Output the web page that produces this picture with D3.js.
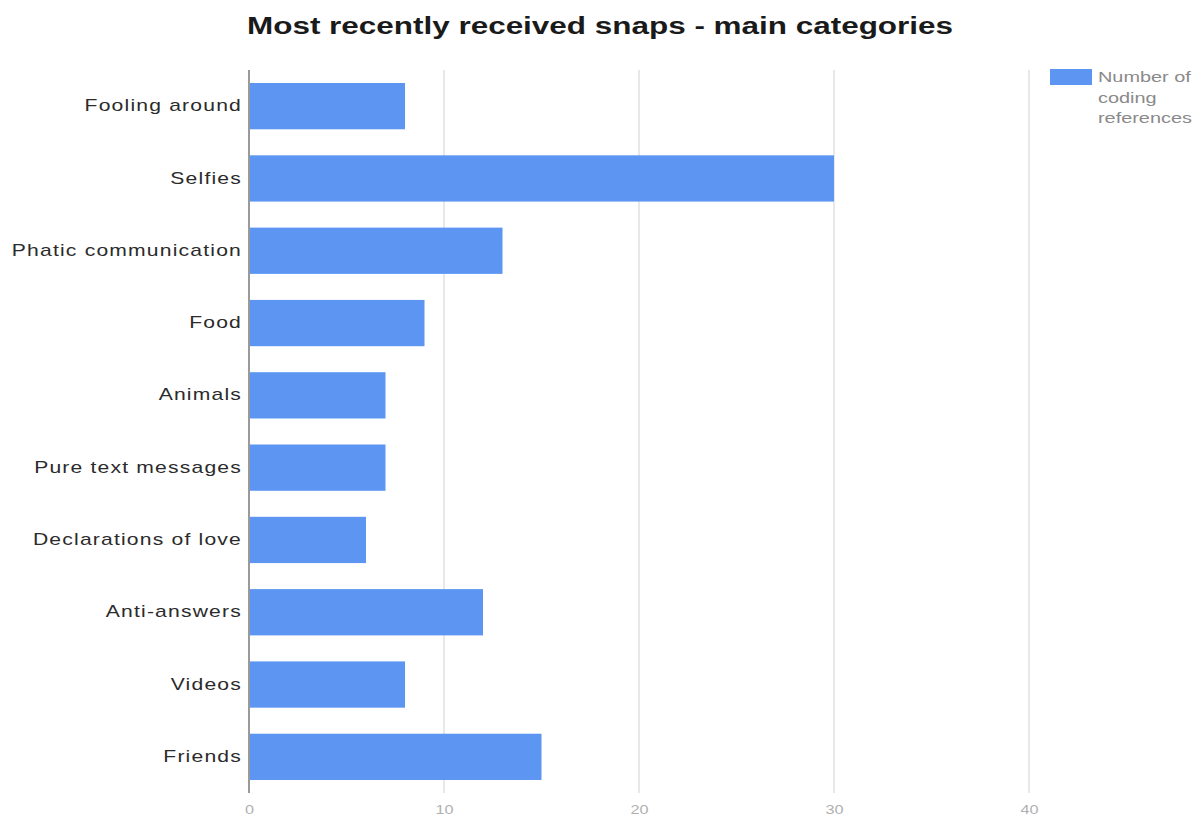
<!DOCTYPE html>
<html>
<head>
<meta charset="utf-8">
<script src="https://cdn.jsdelivr.net/npm/d3@7"></script>
<style>
  body { margin: 0; background: #fff; font-family: "Liberation Sans", Arial, sans-serif; }
</style>
</head>
<body>
<div id="chart"></div>
<script>
// chart data
var categories = ["Fooling around", "Selfies", "Phatic communication", "Food", "Animals",
  "Pure text messages", "Declarations of love", "Anti-answers", "Videos", "Friends"];
var counts = [8, 30, 13, 9, 7, 7, 6, 12, 8, 15];
var xTicks = [0, 10, 20, 30, 40];
var titleText = "Most recently received snaps - main categories";
var legendLines = ["Number of", "coding", "references"];

var width = 1203, height = 816;
var margin = {top: 70, right: 174, bottom: 23, left: 249};
var stretch = 1.32; // text in the reference is drawn wide

var svg = d3.select("#chart")
  .append("svg")
  .attr("width", width)
  .attr("height", height);

var x = d3.scaleLinear()
  .domain([0, 40])
  .range([margin.left, width - margin.right]);

var y = d3.scaleBand()
  .domain(categories)
  .range([margin.top, height - margin.bottom])
  .paddingInner(0.36)
  .paddingOuter(0.18);

// grid lines
svg.selectAll(".grid")
  .data(xTicks.slice(1))
  .enter().append("line")
  .attr("class", "grid")
  .attr("x1", d => x(d)).attr("x2", d => x(d))
  .attr("y1", margin.top).attr("y2", height - margin.bottom)
  .attr("stroke", "#e0e0e0")
  .attr("stroke-width", 1.5);

// bars
svg.selectAll(".bar")
  .data(categories)
  .enter().append("rect")
  .attr("class", "bar")
  .attr("x", x(0))
  .attr("y", d => y(d))
  .attr("width", (d, i) => x(counts[i]) - x(0))
  .attr("height", y.bandwidth())
  .attr("fill", "#5c96f2");

// baseline
svg.append("line")
  .attr("x1", x(0)).attr("x2", x(0))
  .attr("y1", margin.top).attr("y2", height - margin.bottom)
  .attr("stroke", "#9a9a9a")
  .attr("stroke-width", 2);

// category axis
var yAxis = svg.append("g")
  .attr("transform", "translate(" + x(0) + ",0)")
  .call(d3.axisLeft(y).tickSize(0).tickPadding(0));
yAxis.select(".domain").remove();
yAxis.selectAll("text")
  .attr("x", -7 / stretch)
  .attr("transform", "scale(" + stretch + ",1)")
  .style("font-family", "'Liberation Sans', Arial, sans-serif")
  .style("font-size", "16px")
  .style("letter-spacing", "0.9px")
  .attr("fill", "#2b2b2b");

// value axis
var xAxis = svg.append("g")
  .attr("transform", "translate(0," + (height - margin.bottom) + ")")
  .call(d3.axisBottom(x).tickValues(xTicks).tickSize(0).tickPadding(12));
xAxis.select(".domain").remove();
xAxis.selectAll("text")
  .attr("transform", "scale(1.25,1)")
  .style("font-family", "'Liberation Sans', Arial, sans-serif")
  .style("font-size", "13px")
  .attr("fill", "#b0b0b0");

// title
svg.append("text")
  .attr("x", 600)
  .attr("y", 34)
  .attr("text-anchor", "middle")
  .attr("textLength", 706)
  .attr("lengthAdjust", "spacingAndGlyphs")
  .style("font-family", "'Liberation Sans', Arial, sans-serif")
  .style("font-weight", "bold")
  .style("font-size", "23px")
  .attr("fill", "#1a1a1a")
  .text(titleText);

// legend
var legend = svg.append("g").attr("transform", "translate(1050,69)");
legend.append("rect")
  .attr("width", 42)
  .attr("height", 16)
  .attr("fill", "#5c96f2");
legend.selectAll("text")
  .data(legendLines)
  .enter().append("text")
  .attr("transform", (d, i) => "translate(48," + (13 + i * 20.5) + ") scale(1.42,1)")
  .style("font-family", "'Liberation Sans', Arial, sans-serif")
  .style("font-size", "14px")
  .attr("fill", "#8a8a8a")
  .text(d => d);
</script>
</body>
</html>
